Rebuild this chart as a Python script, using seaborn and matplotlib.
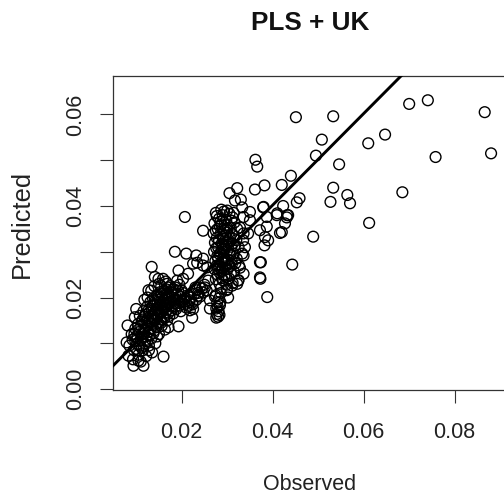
import matplotlib
matplotlib.use("Agg")
import matplotlib.pyplot as plt
import seaborn as sns
import pandas as pd

title = "PLS + UK"
x_label = "Observed"
y_label = "Predicted"
x_ticks = [0.02, 0.04, 0.06, 0.08]
x_tick_labels = ["0.02", "0.04", "0.06", "0.08"]
y_ticks = [0.00, 0.01, 0.02, 0.03, 0.04, 0.05, 0.06]
y_tick_labels = ["0.00", "", "0.02", "", "0.04", "", "0.06"]

# 1:1 reference line
line_x = [0.0, 0.1]
line_y = [0.0002, 0.1002]

# sparse / mid-range points
obs_sparse = [0.0451, 0.0533, 0.0700, 0.0741, 0.0866, 0.0880, 0.0758, 0.0610, 0.0647, 0.0508,
              0.0495, 0.0546, 0.0440, 0.0362, 0.0366, 0.0420, 0.0382, 0.0361, 0.0322, 0.0305,
              0.0330, 0.0317, 0.0533, 0.0564, 0.0570, 0.0527, 0.0459, 0.0453, 0.0685, 0.0612,
              0.0489, 0.0443, 0.0374, 0.0373, 0.0388, 0.0207, 0.0247, 0.0185, 0.0210, 0.0232,
              0.0193, 0.0134, 0.0141, 0.0149, 0.0160, 0.0423, 0.0432, 0.0409, 0.0427, 0.0416,
              0.0382, 0.0390, 0.0380, 0.0387, 0.0387, 0.0350, 0.0336, 0.0336, 0.0336, 0.0336,
              0.0325, 0.0299, 0.0262, 0.0234, 0.0218, 0.0218, 0.0193, 0.0171, 0.0094, 0.0116,
              0.0105, 0.0083, 0.0079, 0.0081, 0.0097, 0.0127]
pred_sparse = [0.0594, 0.0596, 0.0623, 0.0631, 0.0605, 0.0515, 0.0507, 0.0537, 0.0556, 0.0545,
               0.0510, 0.0491, 0.0466, 0.0501, 0.0486, 0.0446, 0.0445, 0.0436, 0.0439, 0.0428,
               0.0414, 0.0412, 0.0440, 0.0424, 0.0406, 0.0409, 0.0417, 0.0408, 0.0430, 0.0363,
               0.0333, 0.0272, 0.0277, 0.0241, 0.0201, 0.0376, 0.0346, 0.0300, 0.0296, 0.0292,
               0.0259, 0.0267, 0.0245, 0.0241, 0.0071, 0.0400, 0.0380, 0.0380, 0.0362, 0.0341,
               0.0314, 0.0325, 0.0398, 0.0376, 0.0355, 0.0387, 0.0376, 0.0340, 0.0292, 0.0252,
               0.0238, 0.0216, 0.0194, 0.0216, 0.0194, 0.0172, 0.0137, 0.0135, 0.0051, 0.0051,
               0.0062, 0.0073, 0.0102, 0.0139, 0.0157, 0.0216]

# points around the clusters
obs_mid = [0.0234, 0.0247, 0.0159, 0.0168, 0.0190, 0.0203, 0.0214, 0.0225, 0.0240, 0.0247,
           0.0236, 0.0223, 0.0223, 0.0262, 0.0311, 0.0324, 0.0379, 0.0410, 0.0434, 0.0383,
           0.0372, 0.0372, 0.0372, 0.0333, 0.0328, 0.0335, 0.0333, 0.0328, 0.0322, 0.0302,
           0.0350, 0.0346, 0.0339, 0.0256, 0.0258, 0.0251, 0.0247, 0.0431, 0.0420]
pred_mid = [0.0276, 0.0270, 0.0241, 0.0230, 0.0237, 0.0241, 0.0252, 0.0274, 0.0222, 0.0211,
            0.0204, 0.0189, 0.0156, 0.0176, 0.0226, 0.0237, 0.0397, 0.0384, 0.0380, 0.0332,
            0.0347, 0.0277, 0.0244, 0.0397, 0.0353, 0.0325, 0.0296, 0.0265, 0.0230, 0.0200,
            0.0369, 0.0340, 0.0310, 0.0266, 0.0237, 0.0222, 0.0285, 0.0375, 0.0343]

# dense low-range cluster
obs_low = [0.0085, 0.0090, 0.0092, 0.0095, 0.0098, 0.0100, 0.0102, 0.0104, 0.0105, 0.0107,
           0.0108, 0.0110, 0.0111, 0.0112, 0.0114, 0.0115, 0.0116, 0.0118, 0.0119, 0.0120,
           0.0121, 0.0122, 0.0124, 0.0125, 0.0126, 0.0127, 0.0128, 0.0129, 0.0130, 0.0131,
           0.0132, 0.0133, 0.0134, 0.0135, 0.0136, 0.0137, 0.0138, 0.0139, 0.0140, 0.0141,
           0.0142, 0.0143, 0.0144, 0.0145, 0.0146, 0.0147, 0.0148, 0.0149, 0.0150, 0.0151,
           0.0152, 0.0153, 0.0154, 0.0155, 0.0156, 0.0157, 0.0158, 0.0159, 0.0160, 0.0161,
           0.0162, 0.0163, 0.0164, 0.0165, 0.0166, 0.0167, 0.0168, 0.0169, 0.0170, 0.0171,
           0.0172, 0.0173, 0.0175, 0.0176, 0.0178, 0.0180, 0.0181, 0.0183, 0.0185, 0.0186,
           0.0188, 0.0190, 0.0192, 0.0194, 0.0196, 0.0198, 0.0200, 0.0203, 0.0205, 0.0208,
           0.0210, 0.0213, 0.0216, 0.0220, 0.0224, 0.0228, 0.0232, 0.0236, 0.0240, 0.0245,
           0.0250, 0.0255, 0.0118, 0.0100, 0.0150, 0.0165, 0.0140, 0.0093, 0.0110, 0.0122,
           0.0135, 0.0128, 0.0098,
           0.0105, 0.0112, 0.0118, 0.0123, 0.0127, 0.0132, 0.0136, 0.0139, 0.0142, 0.0145,
           0.0148, 0.0151, 0.0154, 0.0157, 0.0160, 0.0163, 0.0166, 0.0169, 0.0172, 0.0175,
           0.0178, 0.0182, 0.0186, 0.0190, 0.0195, 0.0200, 0.0125, 0.0133, 0.0155, 0.0113,
           0.0118, 0.0124, 0.0130, 0.0108, 0.0115, 0.0100, 0.0096, 0.0103, 0.0140, 0.0146,
           0.0155, 0.0162, 0.0170, 0.0178, 0.0186, 0.0195, 0.0205, 0.0215, 0.0225, 0.0230]
pred_low = [0.0095, 0.0120, 0.0108, 0.0085, 0.0132, 0.0115, 0.0098, 0.0142, 0.0075, 0.0125,
            0.0160, 0.0108, 0.0138, 0.0090, 0.0152, 0.0120, 0.0170, 0.0132, 0.0100, 0.0145,
            0.0162, 0.0115, 0.0180, 0.0138, 0.0155, 0.0125, 0.0085, 0.0168, 0.0148, 0.0190,
            0.0132, 0.0110, 0.0175, 0.0158, 0.0142, 0.0198, 0.0122, 0.0165, 0.0185, 0.0150,
            0.0100, 0.0172, 0.0135, 0.0205, 0.0160, 0.0188, 0.0145, 0.0178, 0.0120, 0.0195,
            0.0165, 0.0212, 0.0152, 0.0182, 0.0138, 0.0200, 0.0170, 0.0190, 0.0158, 0.0215,
            0.0178, 0.0130, 0.0198, 0.0168, 0.0208, 0.0185, 0.0150, 0.0195, 0.0222, 0.0175,
            0.0205, 0.0160, 0.0190, 0.0212, 0.0180, 0.0200, 0.0165, 0.0218, 0.0188, 0.0205,
            0.0175, 0.0195, 0.0215, 0.0182, 0.0202, 0.0170, 0.0192, 0.0210, 0.0185, 0.0198,
            0.0178, 0.0205, 0.0190, 0.0200, 0.0185, 0.0208, 0.0195, 0.0210, 0.0202, 0.0220,
            0.0228, 0.0215, 0.0195, 0.0175, 0.0230, 0.0235, 0.0225, 0.0065, 0.0060, 0.0072,
            0.0080, 0.0095, 0.0105,
            0.0130, 0.0148, 0.0158, 0.0150, 0.0172, 0.0160, 0.0182, 0.0150, 0.0192, 0.0175,
            0.0200, 0.0185, 0.0170, 0.0208, 0.0195, 0.0182, 0.0218, 0.0202, 0.0190, 0.0225,
            0.0210, 0.0195, 0.0222, 0.0208, 0.0228, 0.0215, 0.0200, 0.0215, 0.0225, 0.0112,
            0.0122, 0.0105, 0.0118, 0.0095, 0.0085, 0.0088, 0.0120, 0.0112, 0.0128, 0.0115,
            0.0145, 0.0155, 0.0165, 0.0172, 0.0180, 0.0188, 0.0195, 0.0182, 0.0175, 0.0222]

# dense vertical cluster near observed 0.03
obs_vert = [0.0275, 0.0290, 0.0305, 0.0282, 0.0298, 0.0312, 0.0272, 0.0287, 0.0301, 0.0316,
            0.0279, 0.0294, 0.0308, 0.0270, 0.0285, 0.0299, 0.0314, 0.0277, 0.0292, 0.0306,
            0.0320, 0.0273, 0.0288, 0.0302, 0.0317, 0.0280, 0.0295, 0.0309, 0.0271, 0.0286,
            0.0300, 0.0315, 0.0278, 0.0293, 0.0307, 0.0321, 0.0274, 0.0289, 0.0303, 0.0318,
            0.0281, 0.0296, 0.0310, 0.0272, 0.0287, 0.0301, 0.0315, 0.0279, 0.0294, 0.0308,
            0.0275, 0.0290, 0.0304, 0.0283, 0.0298, 0.0312, 0.0286, 0.0300, 0.0284, 0.0296,
            0.0291, 0.0283, 0.0297, 0.0285, 0.0293, 0.0303, 0.0289, 0.0292, 0.0275, 0.0282,
            0.0278, 0.0284, 0.0276, 0.0281, 0.0277, 0.0280,
            0.0277, 0.0293, 0.0309, 0.0285, 0.0300, 0.0275, 0.0290, 0.0310, 0.0282, 0.0297,
            0.0312, 0.0276, 0.0292, 0.0305, 0.0280, 0.0295, 0.0310, 0.0277, 0.0290, 0.0305,
            0.0283, 0.0298, 0.0288, 0.0280, 0.0322, 0.0325, 0.0326, 0.0287, 0.0300, 0.0314,
            0.0273, 0.0285, 0.0279, 0.0283, 0.0276, 0.0286]
pred_vert = [0.0385, 0.0380, 0.0383, 0.0372, 0.0370, 0.0375, 0.0362, 0.0360, 0.0358, 0.0364,
             0.0350, 0.0348, 0.0352, 0.0340, 0.0338, 0.0342, 0.0336, 0.0330, 0.0328, 0.0330,
             0.0325, 0.0320, 0.0318, 0.0321, 0.0314, 0.0310, 0.0307, 0.0311, 0.0300, 0.0298,
             0.0302, 0.0296, 0.0290, 0.0288, 0.0292, 0.0285, 0.0280, 0.0278, 0.0282, 0.0275,
             0.0270, 0.0268, 0.0272, 0.0262, 0.0258, 0.0262, 0.0256, 0.0250, 0.0248, 0.0252,
             0.0240, 0.0238, 0.0242, 0.0230, 0.0228, 0.0232, 0.0220, 0.0218, 0.0355, 0.0335,
             0.0315, 0.0295, 0.0275, 0.0265, 0.0345, 0.0325, 0.0305, 0.0285, 0.0205, 0.0198,
             0.0190, 0.0183, 0.0176, 0.0170, 0.0164, 0.0158,
             0.0378, 0.0388, 0.0368, 0.0366, 0.0352, 0.0346, 0.0332, 0.0340, 0.0325, 0.0315,
             0.0318, 0.0308, 0.0300, 0.0296, 0.0286, 0.0282, 0.0280, 0.0270, 0.0264, 0.0268,
             0.0255, 0.0245, 0.0243, 0.0262, 0.0350, 0.0310, 0.0270, 0.0392, 0.0390, 0.0385,
             0.0202, 0.0190, 0.0180, 0.0162, 0.0156, 0.0210]

observed = obs_sparse + obs_mid + obs_low + obs_vert
predicted = pred_sparse + pred_mid + pred_low + pred_vert
df = pd.DataFrame({"Observed": observed, "Predicted": predicted})
line_df = pd.DataFrame({"x": line_x, "y": line_y})

sns.set_theme(style="ticks")
plt.rcParams["font.family"] = ["Liberation Sans", "DejaVu Sans"]

fig = plt.figure(figsize=(5.04, 4.98), dpi=100)
ax = fig.add_axes([113 / 504, 1 - 390 / 498, 394 / 504, 314 / 498])

sns.scatterplot(data=df, x="Observed", y="Predicted", ax=ax, marker="o",
                facecolor="none", edgecolor="black", s=60, linewidth=1.0, zorder=2)
sns.lineplot(data=line_df, x="x", y="y", ax=ax, color="black", linewidth=2.1, zorder=3)

ax.set_xlim(0.0049, 0.0915)
ax.set_ylim(-0.0002, 0.0684)
ax.set_xticks(x_ticks)
ax.set_xticklabels(x_tick_labels)
ax.set_yticks(y_ticks)
ax.set_yticklabels(y_tick_labels)
ax.tick_params(axis="both", length=9.5, width=0.8, color="#333333", labelsize=15.5,
               labelcolor="#222222", direction="out")
ax.tick_params(axis="x", pad=13.5)
ax.tick_params(axis="y", pad=9.5)
for lab in ax.get_yticklabels():
    lab.set_rotation(90)
    lab.set_va("center")
    lab.set_ha("right")

for sp in ax.spines.values():
    sp.set_visible(True)
    sp.set_linewidth(0.9)
    sp.set_color("#333333")

ax.set_xlabel(x_label, fontsize=15.5, color="#222222")
ax.set_ylabel(y_label, fontsize=18.3, color="#222222")
ax.xaxis.set_label_coords(0.5, -0.302)
ax.xaxis.label.set_va("center")
ax.yaxis.set_label_coords(-0.231, 0.529)
ax.yaxis.label.set_va("center")

fig.text(310 / 504, 1 - 23 / 498, title, ha="center", va="center",
         fontsize=18.8, fontweight="bold", color="#111111")

fig.savefig("out.png", dpi=100)
